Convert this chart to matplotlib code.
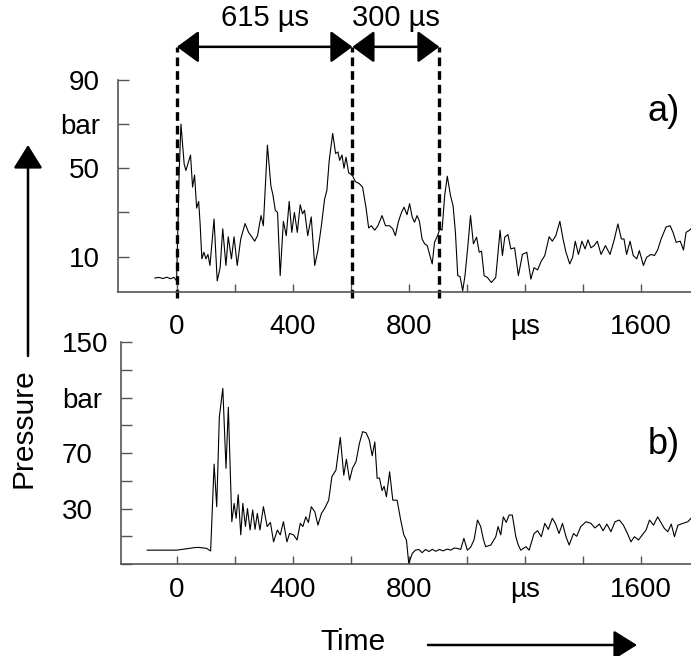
import matplotlib

matplotlib.use("Agg")
import matplotlib.pyplot as plt

plt.rcParams["font.family"] = ["Liberation Sans", "DejaVu Sans"]

# trace a) : time (µs) and pressure (bar)
time_a = [-76, -62, -48, -35, -22, -10, -1, 8, 14, 25, 31, 47, 54, 61, 68, 75,
          80, 86, 93, 100, 107, 114, 128, 139, 149, 158, 169, 177, 188, 197, 208, 220,
          235, 247, 258, 268, 278, 290, 298, 312, 324, 331, 339, 347, 356, 367, 377, 387,
          396, 405, 415, 425, 433, 440, 451, 463, 475, 486, 498, 509, 517, 525, 537, 547,
          555, 561, 569, 576, 583, 592, 604, 615, 629, 640, 652, 661, 670, 682, 693, 707,
          719, 733, 744, 753, 763, 774, 783, 793, 802, 811, 819, 828, 836, 845, 854, 863,
          872, 880, 888, 900, 906, 914, 923, 932, 943, 952, 960, 968, 976, 985, 993, 1003,
          1012, 1022, 1033, 1042, 1050, 1059, 1070, 1084, 1099, 1114, 1122, 1130, 1141, 1151, 1164, 1177,
          1191, 1206, 1220, 1231, 1243, 1256, 1268, 1283, 1294, 1306, 1320, 1331, 1341, 1354, 1364, 1373,
          1384, 1396, 1407, 1417, 1427, 1438, 1449, 1462, 1477, 1493, 1508, 1520, 1532, 1541, 1550, 1562,
          1573, 1585, 1594, 1608, 1619, 1634, 1646, 1657, 1669, 1686, 1700, 1710, 1721, 1735, 1746, 1755,
          1765, 1772]
pressure_a = [0.3, 0.6, 0.1, 0.7, 0.0, 0.6, -1, 49, 70, 52, 49, 56, 41.5, 47, 32, 35,
              25, 9, 12, 9, 11, 6, 27, -1, 5, 22.6, 6, 19, 9, 19, 6, 18,
              25, 21, 19, 17, 19.5, 28.6, 24, 60.5, 42, 38, 31, 30, 1.4, 26, 19.5, 35,
              21, 30, 21, 33.5, 29.4, 31, 19.5, 28, 6, 12.7, 24, 36, 40, 53.6, 65.8, 56.7,
              57.4, 53.6, 56, 50, 55, 48, 47, 44, 43, 41.5, 32, 23, 24, 22, 24, 28.6,
              24, 24, 22.6, 19.5, 25.6, 30, 32.4, 29, 34, 28, 25.6, 28.6, 26, 18, 15.8, 15,
              10.5, 6.7, 16.5, 20, 22.6, 22, 37.7, 46.4, 37.7, 33, 21, 1.4, 1, -5.5, 1.4, 15,
              28.6, 15.8, 18.8, 12, 12.5, 1.4, 0.6, -1.7, 0.6, 22, 10.5, 18.8, 20, 13.5, 14, 1.4,
              11, 12, -0.2, 5, 4, 8, 10.5, 19, 17, 19.5, 26, 18, 12, 6.7, 9.7, 17,
              11, 17, 13.5, 17.6, 14, 15, 17, 11, 15, 11, 18, 24.8, 18, 18, 11, 17,
              10.5, 9, 12.7, 6, 9.7, 11, 10.5, 13, 18, 23.4, 24, 21, 16.5, 17, 13, 21,
              21.8, 22.6]

# trace b)
time_b = [-103, -60, -20, -1, 20, 45, 60, 74, 90, 102, 116, 128, 137, 146, 158, 169,
          177, 189, 197, 204, 211, 220, 227, 236, 243, 252, 261, 269, 277, 286, 298, 311,
          322, 333, 346, 356, 367, 379, 388, 402, 414, 425, 434, 444, 453, 463, 475, 486,
          498, 509, 523, 534, 548, 563, 575, 584, 595, 605, 617, 629, 640, 652, 663, 673,
          682, 690, 698, 707, 714, 722, 733, 744, 759, 770, 782, 791, 799, 811, 822, 834,
          845, 857, 869, 880, 892, 905, 918, 931, 944, 955, 966, 978, 989, 1001, 1012, 1024,
          1036, 1047, 1056, 1064, 1082, 1099, 1107, 1116, 1125, 1135, 1145, 1156, 1168, 1176, 1185, 1203,
          1214, 1231, 1243, 1256, 1268, 1280, 1294, 1305, 1317, 1329, 1341, 1352, 1367, 1378, 1392, 1410,
          1427, 1441, 1456, 1469, 1482, 1496, 1510, 1525, 1539, 1553, 1565, 1577, 1591, 1604, 1617, 1629,
          1643, 1657, 1668, 1680, 1692, 1704, 1715, 1727, 1744, 1761, 1772]
pressure_b = [0, 0, 0, 0, 0.6, 1.3, 1.8, 2, 1.6, 1.3, -0.6, 62, 31.3, 96, 116.6, 59,
              103, 20.5, 33.7, 23, 40, 11, 33.7, 17, 30, 14.5, 29, 15, 26.5, 14.5, 31.3, 17,
              20, 6, 14.5, 11, 20.5, 6, 12, 11, 7.3, 19.3, 17, 24, 20, 31.3, 27.7, 18,
              26.5, 30, 36, 53, 57.7, 81.3, 54, 65.5, 50.5, 59, 63.7, 77, 85.4, 84.6, 79.4, 68,
              78, 51.8, 52, 43, 46, 38.5, 56.5, 36, 36, 23, 11, 7.3, -9.6, -2.4, 0, 0.5,
              -1.8, 0.5, -1, 0.6, -0.8, 0.5, -0.5, 0.8, 0, 1.5, 1.3, 0.5, 8.5, 0, 2, 7.3,
              21.7, 17, 8, 2.5, 3.7, 9.7, 17, 11, 24, 20, 25.3, 25.3, 9.7, 4, 0, 2.5,
              0, 12, 14, 9.7, 19.3, 15, 23, 19, 12, 19.3, 9.7, 3.7, 12, 10, 17, 20.5,
              19.3, 16, 18.8, 14, 18.8, 13.3, 20.5, 21.7, 18, 12, 6, 9.7, 7.3, 11, 14.5, 21.7,
              18, 24, 20, 15.7, 13.3, 18.8, 9.7, 18, 19.3, 20.5, 23]

x_ticks = [0, 200, 400, 600, 800, 1000, 1200, 1400, 1600]
x_labels = ["0", "", "400", "", "800", "", "µs", "", "1600"]
ya_ticks = [10, 30, 50, 70, 90]
ya_labels = ["10", "", "50", "bar", "90"]
yb_ticks = [-10, 10, 30, 50, 70, 90, 110, 130, 150]
yb_labels = ["", "", "30", "", "70", "", "bar", "", "150"]

# event markers (µs) and interval labels
events = [0, 605, 905]
intervals = ["615 µs", "300 µs"]

FS = 20
SPINE = "#555555"
ARROW = dict(arrowstyle="-|>,head_length=0.8,head_width=0.5", mutation_scale=18,
             lw=1.8, color="black", shrinkA=0, shrinkB=0)
DARROW = dict(ARROW, arrowstyle="<|-|>,head_length=0.75,head_width=0.55")

fig = plt.figure(figsize=(6.91, 6.56), dpi=100)
ax1 = fig.add_axes([118 / 691, 0.5549, 1 - 118 / 691, 0.3232])
ax2 = fig.add_axes([121 / 691, 0.1402, 1 - 121 / 691, 0.3384])

for ax in (ax1, ax2):
    for s in ("top", "right"):
        ax.spines[s].set_visible(False)
    for s in ("left", "bottom"):
        ax.spines[s].set_color(SPINE)
        ax.spines[s].set_linewidth(1.2)
    ax.set_xticks(x_ticks, x_labels)
    ax.tick_params(axis="x", direction="in", length=6, width=1, color=SPINE, labelsize=FS)
    ax.tick_params(axis="y", direction="in", length=8, width=1, color=SPINE, labelsize=FS)

ax1.plot(time_a, pressure_a, color="black", lw=0.8)
ax1.set_xlim(-203, 1772)
ax1.set_ylim(-6, 90)
ax1.set_yticks(ya_ticks, ya_labels)
ax1.tick_params(axis="x", pad=16)
ax1.tick_params(axis="y", pad=13)
ax1.text(1679, 75.5, "a)", fontsize=26, ha="center", va="center")

ax2.plot(time_b, pressure_b, color="black", lw=0.8)
ax2.set_xlim(-193, 1772)
ax2.set_ylim(-10, 150)
ax2.set_yticks(yb_ticks, yb_labels)
ax2.tick_params(axis="x", pad=9)
ax2.tick_params(axis="y", pad=42.5)
for lab in ax2.get_yticklabels():
    lab.set_horizontalalignment("left")
ax2.text(1679, 75.8, "b)", fontsize=26, ha="center", va="center")

# dashed event lines and interval arrows above panel a)
for ev in events:
    ax1.plot([ev, ev], [-8.5, 105], color="black", lw=2.4, ls=(0, (2.6, 1.5)),
             clip_on=False)
for i, lab in enumerate(intervals):
    x0, x1 = events[i], events[i + 1]
    ax1.annotate("", xy=(x1, 105), xytext=(x0, 105), arrowprops=DARROW,
                 annotation_clip=False)
    ax1.text((x0 + x1) / 2, 118, lab, fontsize=21, ha="center", va="center")

# axis-name arrows
fig.text(24, 228, "Pressure", transform=None, fontsize=21.5, rotation=90,
         ha="center", va="center")
ax1.annotate("", xy=(28, 511), xytext=(28, 300), xycoords="figure pixels",
             arrowprops=ARROW, annotation_clip=False)
fig.text(353, 14, "Time", transform=None, fontsize=21.5, ha="center", va="center")
ax1.annotate("", xy=(637, 11), xytext=(428, 11), xycoords="figure pixels",
             arrowprops=ARROW, annotation_clip=False)

fig.savefig("out.png", dpi=100)
